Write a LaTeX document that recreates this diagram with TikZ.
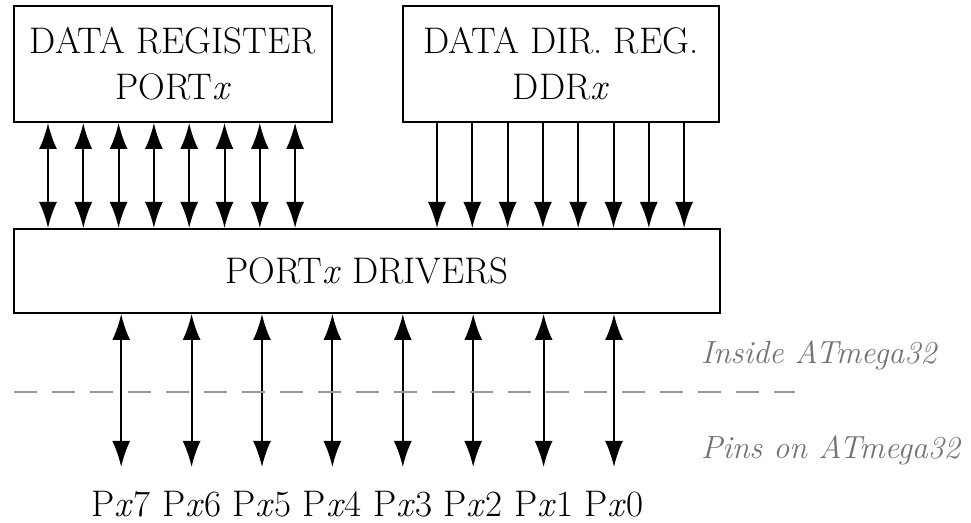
\documentclass[tikz,border=0pt]{standalone}
\usepackage{tikz}
\usetikzlibrary{
    calc,
    arrows.meta,
    positioning
}
\tikzset{
    regbox/.style={draw,line width=1pt,align=center,inner sep=0pt},
    biarrow/.style={{Latex[length=13pt,width=9pt]}-{Latex[length=13pt,width=9pt]},line width=1pt},
    dnarrow/.style={-{Latex[length=13pt,width=9pt]},line width=1pt},
    sidelabel/.style={anchor=west,text=black!55,font=\fontsize{16}{20}\selectfont\itshape},
    border/.style={gray!80,line width=1.2pt,dash pattern=on 11.5pt off 7.5pt}
}

\begin{document}
\begin{tikzpicture}[x=0.5pt,y=-0.5pt,font=\fontsize{18.5}{23}\selectfont]
    \useasboundingbox (0,0) rectangle (971,523);

    % registers and drivers
    \node[regbox,minimum width=159pt,minimum height=58pt] (portreg) at (173,64) {DATA REGISTER\\PORT\textit{x}};
    \node[regbox,minimum width=158pt,minimum height=58pt] (ddrreg) at (561,64) {DATA DIR.\ REG.\\DDR\textit{x}};
    \node[regbox,minimum width=353pt,minimum height=42pt] (drivers) at (367,271) {PORT\textit{x} DRIVERS};

    % data lines
    \foreach \i in {0,...,7} {
        \coordinate (pr\i) at ($(portreg.south west)+({35+35.3*\i},0)$);
        \draw[biarrow] (pr\i) -- (pr\i |- drivers.north);
        \coordinate (dd\i) at ($(ddrreg.south west)+({35+35.3*\i},0)$);
        \draw[dnarrow] (dd\i) -- (dd\i |- drivers.north);
    }

    % pins
    \foreach \i in {0,...,7} {
        \coordinate (end\i) at ({614-70.4*\i},467);
        \node[inner sep=0pt,below=12pt of end\i] (px\i) {P\textit{x}\i};
        \draw[biarrow] (end\i |- drivers.south) -- (end\i);
    }

    % chip border
    \coordinate (bl) at (14,392);
    \coordinate (br) at (795,392);
    \draw[border] (bl) -- (br);

    \node[sidelabel] (inside) at (694,355) {Inside ATmega32};
    \node[sidelabel] (pins) at (694,450) {Pins on ATmega32};
\end{tikzpicture}
\end{document}
